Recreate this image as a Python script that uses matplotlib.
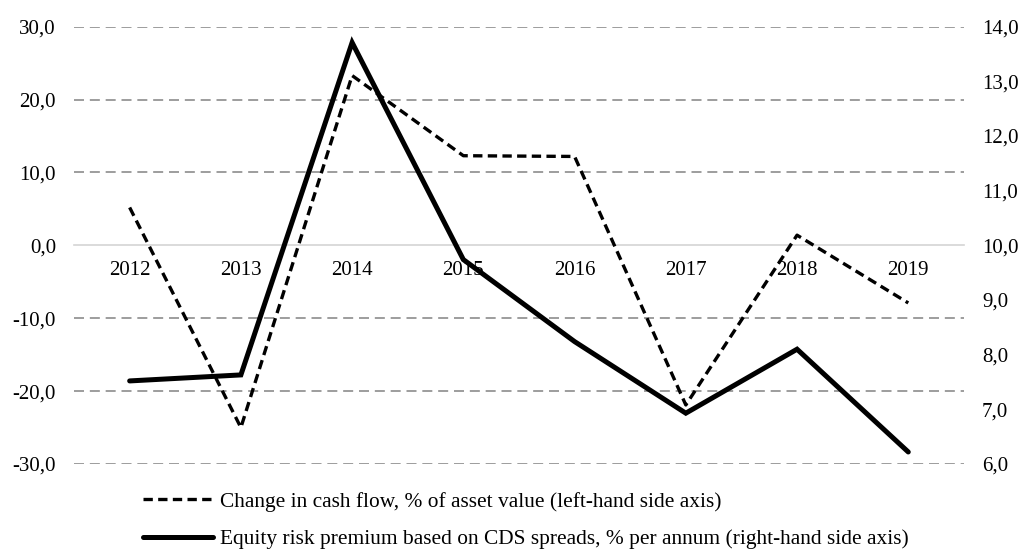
import matplotlib
matplotlib.use("Agg")
import matplotlib.pyplot as plt
from matplotlib.ticker import FuncFormatter

years = ["2012", "2013", "2014", "2015", "2016", "2017", "2018", "2019"]
cash_flow_change = [5.2, -25.0, 23.3, 12.3, 12.2, -21.9, 1.4, -7.9]
equity_risk_premium = [7.52, 7.63, 13.71, 9.74, 8.24, 6.93, 8.10, 6.22]

cash_flow_label = "Change in cash flow, % of asset value (left-hand side axis)"
premium_label = "Equity risk premium based on CDS spreads, % per annum (right-hand side axis)"

plt.rcParams["font.family"] = ["Liberation Serif", "DejaVu Serif"]
plt.rcParams["font.size"] = 15


def comma_fmt(v, _pos):
    return f"{v:.1f}".replace(".", ",")


fig = plt.figure(figsize=(10.24, 5.52), dpi=100)
ax = fig.add_axes([0.0723, 0.1594, 0.8690, 0.7922])
ax2 = ax.twinx()

x = list(range(len(years)))

ax.set_ylim(-30, 30)
ax.set_yticks([-30, -20, -10, 0, 10, 20, 30])
ax.yaxis.set_major_formatter(FuncFormatter(comma_fmt))
ax.set_xlim(-0.5, len(years) - 0.5)
for y in [-30, -20, -10, 10, 20, 30]:
    ax.axhline(y, color="#8c8c8c", lw=1.2, dashes=(6, 3.5), zorder=0)

for side in ["top", "left", "right"]:
    ax.spines[side].set_visible(False)
    ax2.spines[side].set_visible(False)
ax2.spines["bottom"].set_visible(False)
ax.spines["bottom"].set_position(("data", 0))
ax.spines["bottom"].set_color("#d4d4d4")
ax.spines["bottom"].set_linewidth(1.2)

ax.set_xticks(x)
ax.set_xticklabels(years)
ax.tick_params(axis="x", length=0, pad=11.5)
ax.tick_params(axis="y", length=0, pad=13)

ax2.set_ylim(6, 14)
ax2.set_yticks(range(6, 15))
ax2.yaxis.set_major_formatter(FuncFormatter(comma_fmt))
ax2.tick_params(axis="y", length=0, pad=13)

l1, = ax.plot(x, cash_flow_change, color="black", lw=2.4, dashes=(2.8, 1.6),
              label=cash_flow_label, zorder=3)
l2, = ax2.plot(x, equity_risk_premium, color="black", lw=3.6,
               solid_capstyle="round", solid_joinstyle="miter",
               label=premium_label, zorder=3)

fig.legend(handles=[l1, l2], loc="upper left",
           bbox_to_anchor=(143 / 1024, 1 - 492 / 552),
           frameon=False, borderpad=0, borderaxespad=0,
           prop={"size": 15.4},
           handlelength=3.27, handletextpad=0.33, labelspacing=0.82)

fig.savefig("out.png", dpi=100)
